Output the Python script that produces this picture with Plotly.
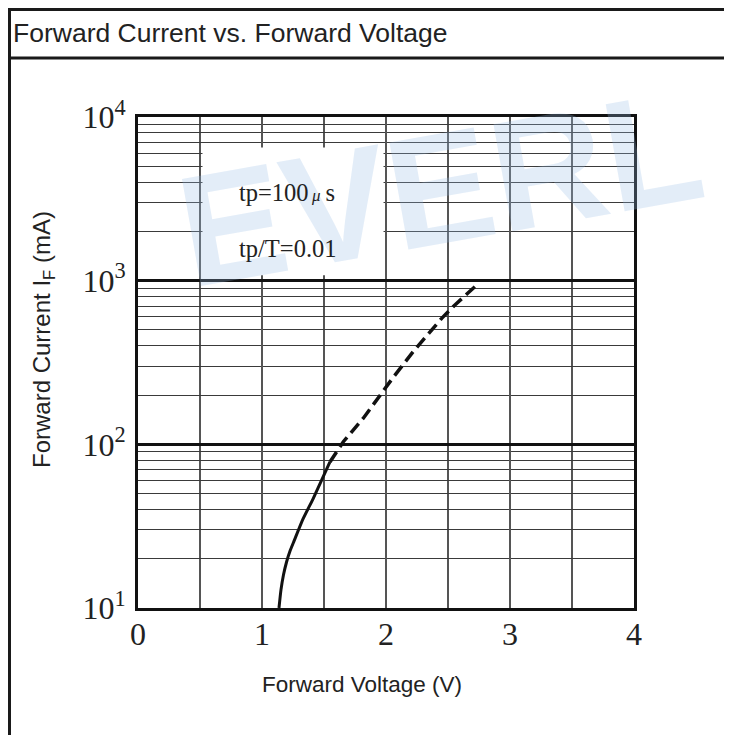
import plotly.graph_objects as go

# ---- data ----
title_text = "Forward Current vs. Forward Voltage"
x_title = "Forward Voltage (V)"
y_title = "Forward Current I<sub>F</sub> (mA)"
watermark = "EVERL"

x_ticks = [0, 1, 2, 3, 4]
x_ticklabels = ["0", "1", "2", "3", "4"]
y_ticks = [10, 100, 1000, 10000]
y_ticklabels = ["10<sup>1</sup>", "10<sup>2</sup>", "10<sup>3</sup>", "10<sup>4</sup>"]

# solid part of the curve (V, mA)
v_solid = [1.137, 1.153, 1.173, 1.198, 1.226, 1.258, 1.331, 1.411, 1.492, 1.548]
i_solid = [10, 12.9, 15.9, 19.1, 22.3, 25.6, 35.0, 46.3, 63.1, 78.0]
# dashed part of the curve (V, mA)
v_dash = [1.548, 1.60, 1.656, 1.817, 1.978, 2.059, 2.22, 2.355, 2.449, 2.556, 2.637, 2.731]
i_dash = [78.0, 89.0, 103.8, 144.5, 214.8, 257, 369, 487.5, 588.8, 710, 805, 940]

note1 = "tp=100<span style='font-style:italic;font-size:17px'>\u2009μ</span>\u2009s"
note2 = "tp/T=0.01"

# ---- figure (page has an 8px body margin) ----
OFF = 8
W, H = 732 - OFF, 735 - OFF
L, R, T, B = 138, 634, 117, 608  # plot area in page pixels


def px(xp):
    return (xp - L) / (R - L)


def py(yp):
    return (B - yp) / (B - T)


serif = "Liberation Serif, Times New Roman, serif"
sans = "Liberation Sans, Arial, sans-serif"

fig = go.Figure()
fig.add_trace(go.Scatter(x=v_solid, y=i_solid, mode="lines",
                         line=dict(color="#111111", width=3, shape="spline", smoothing=0.5),
                         hoverinfo="skip", showlegend=False))
fig.add_trace(go.Scatter(x=v_dash, y=i_dash, mode="lines",
                         line=dict(color="#111111", width=3.5, dash="12px,6px"),
                         hoverinfo="skip", showlegend=False))

fig.update_layout(
    width=W, height=H, autosize=False,
    margin=dict(l=L - OFF, r=732 - R, t=T - OFF, b=735 - B, pad=0),
    paper_bgcolor="white", plot_bgcolor="white",
    showlegend=False,
    xaxis=dict(
        range=[0, 4], tickvals=x_ticks, ticktext=x_ticklabels,
        showgrid=True, gridcolor="#555555", gridwidth=1.5,
        minor=dict(dtick=0.5, tick0=0, showgrid=True, gridcolor="#555555", gridwidth=1.5),
        zeroline=False, showline=True, mirror=True, linecolor="#111111", linewidth=3,
        ticks="", tickfont=dict(family=serif, size=32, color="#222222"),
        ticklabelstandoff=-4, fixedrange=True,
    ),
    yaxis=dict(
        type="log", range=[1, 4], tickvals=y_ticks, ticktext=y_ticklabels,
        showgrid=True, gridcolor="#111111", gridwidth=3,
        minor=dict(dtick="D1", showgrid=True, gridcolor="#3a3a3a", gridwidth=1.3),
        zeroline=False, showline=True, mirror=True, linecolor="#111111", linewidth=3,
        ticks="", tickfont=dict(family=serif, size=32, color="#222222"),
        ticklabelstandoff=3, fixedrange=True,
    ),
)

shapes = [
    # white box behind the notes (hides the grid there)
    dict(type="rect", xref="x", yref="y", x0=0.52, x1=1.98, y0=1080, y1=6500,
         fillcolor="white", line=dict(width=0), layer="between"),
    # outer frame
    dict(type="line", xref="paper", yref="paper", x0=px(9.5), x1=px(740), y0=py(9.5), y1=py(9.5),
         line=dict(color="#1a1a1a", width=3)),
    dict(type="line", xref="paper", yref="paper", x0=px(9.5), x1=px(740), y0=py(58), y1=py(58),
         line=dict(color="#1a1a1a", width=3)),
    dict(type="line", xref="paper", yref="paper", x0=px(9.5), x1=px(9.5), y0=py(8), y1=py(745),
         line=dict(color="#1a1a1a", width=3)),
]
fig.update_layout(shapes=shapes)

annotations = [
    # watermark
    dict(text=watermark, xref="paper", yref="paper", x=px(440), y=py(188), xanchor="center",
         yanchor="middle", showarrow=False, textangle=-10,
         font=dict(family=sans, size=158, color="rgba(150,190,230,0.27)", weight="bold")),
    dict(text=title_text, xref="paper", yref="paper", x=px(11), y=py(33), xanchor="left",
         yanchor="middle", showarrow=False, font=dict(family=sans, size=26.5, color="#222222")),
    dict(text=x_title, xref="paper", yref="paper", x=px(362), y=py(684), xanchor="center",
         yanchor="middle", showarrow=False, font=dict(family=sans, size=22.5, color="#222222")),
    dict(text=y_title, xref="paper", yref="paper", x=px(43), y=py(340), xanchor="center",
         yanchor="middle", showarrow=False, textangle=-90,
         font=dict(family=sans, size=24, color="#222222")),
    dict(text=note1, xref="x", yref="y", x=0.798, y=3.541, xanchor="left", yanchor="middle",
         showarrow=False, font=dict(family=serif, size=24.5, color="#222222")),
    dict(text=note2, xref="x", yref="y", x=0.798, y=3.199, xanchor="left", yanchor="middle",
         showarrow=False, font=dict(family=serif, size=24.5, color="#222222")),
]
fig.update_layout(annotations=annotations)

fig.write_html("out.html", config={"displayModeBar": False})
